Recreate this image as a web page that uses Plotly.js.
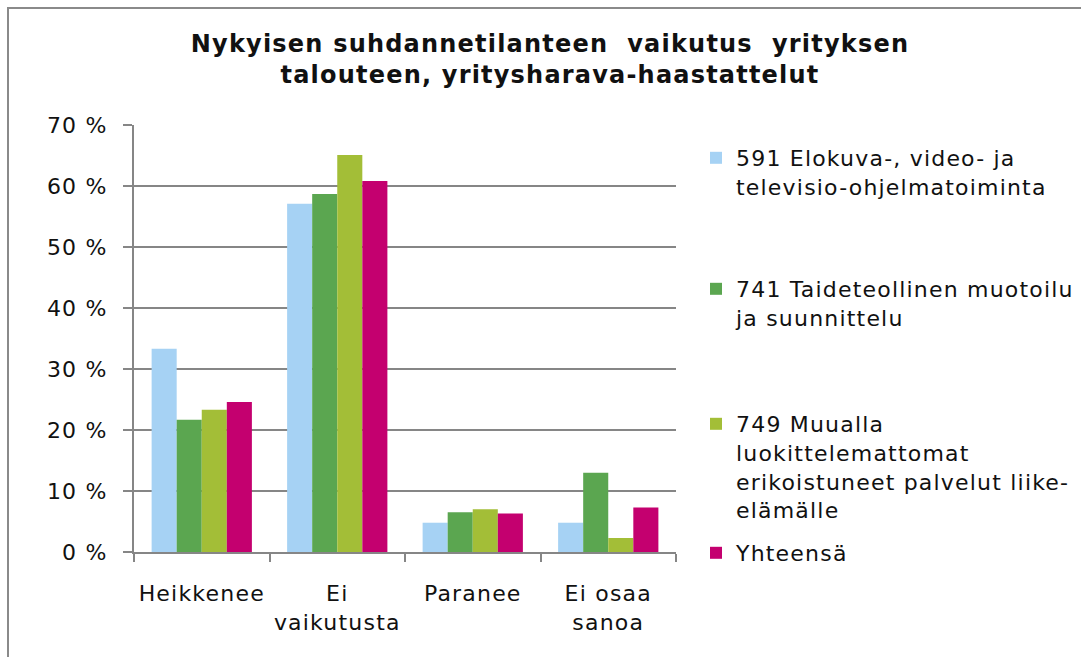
<!DOCTYPE html>
<html>
<head>
<meta charset="utf-8">
<script src="https://cdn.plot.ly/plotly-3.0.1.min.js"></script>
<style>
html,body{margin:0;padding:0;background:#fff;}
#chart{width:1081px;height:657px;}
svg text{letter-spacing:1.2px;}
#chart .legendpoints path.legendbar{transform:translate(16px,-1px) scale(1.25);}
</style>
</head>
<body>
<div id="chart"></div>
<script>
const categories = ['Heikkenee', 'Ei<br>vaikutusta', 'Paranee', 'Ei osaa<br>sanoa'];
const seriesNames = [
  '591 Elokuva-, video- ja<br>televisio-ohjelmatoiminta',
  '741 Taideteollinen muotoilu<br>ja suunnittelu',
  '749 Muualla<br>luokittelemattomat<br>erikoistuneet palvelut liike-<br>elämälle',
  'Yhteensä'
];
const s591 = [33.3, 57.1, 4.8, 4.8];
const s741 = [21.7, 58.7, 6.5, 13.0];
const s749 = [23.3, 65.1, 7.0, 2.3];
const sTotal = [24.6, 60.8, 6.3, 7.3];
const yTicks = [0, 10, 20, 30, 40, 50, 60, 70];
const yTickLabels = ['0 %', '10 %', '20 %', '30 %', '40 %', '50 %', '60 %', '70 %'];

const colors = ['#A6D2F4', '#5BA650', '#A3BE37', '#C4006F'];
const values = [s591, s741, s749, sTotal];
const legendIds = ['legend', 'legend2', 'legend3', 'legend4'];

const traces = values.map((v, i) => ({
  type: 'bar',
  x: categories,
  y: v,
  name: seriesNames[i],
  marker: {color: colors[i], line: {width: 0}},
  legend: legendIds[i],
  hoverinfo: 'skip'
}));

const W = 1081, H = 657;
const L = 134, R = 676, T = 125, B = 552;
const pw = R - L, ph = B - T;
const px = x => (x - L) / pw;
const py = y => (B - y) / ph;

const font = {family: 'DejaVu Sans, Verdana, sans-serif', size: 22, color: '#111'};
const legendBase = (y) => ({
  x: px(696), xanchor: 'left', y: py(y), yanchor: 'top',
  bgcolor: 'rgba(0,0,0,0)', borderwidth: 0,
  font: font, valign: 'top', tracegroupgap: 0
});

const layout = {
  width: W, height: H,
  paper_bgcolor: '#fff', plot_bgcolor: '#fff',
  margin: {l: L, r: W - R, t: T, b: H - B, pad: 0, autoexpand: false},
  font: font,
  title: {
    text: '<b>Nykyisen suhdannetilanteen  vaikutus  yrityksen<br>talouteen, yritysharava-haastattelut</b>',
    font: {family: 'DejaVu Sans, Verdana, sans-serif', size: 24, color: '#111'},
    x: 550 / W, xanchor: 'center', xref: 'container',
    y: 1 - 52 / H, yanchor: 'top', yref: 'container'
  },
  barmode: 'group',
  bargap: 0.26,
  bargroupgap: 0,
  showlegend: true,
  legend: legendBase(137),
  legend2: legendBase(268),
  legend3: legendBase(403),
  legend4: legendBase(532),
  xaxis: {
    type: 'category',
    tickson: 'boundaries',
    tickangle: 0,
    ticks: 'outside', ticklen: 8, tickwidth: 2, tickcolor: '#868686',
    showline: true, linecolor: '#868686', linewidth: 2,
    showgrid: false, zeroline: false,
    tickfont: font,
    ticklabelstandoff: 21,
    automargin: false,
    fixedrange: true
  },
  yaxis: {
    range: [0, 70],
    tickvals: yTicks,
    ticktext: yTickLabels,
    ticks: 'outside', ticklen: 9, tickwidth: 2, tickcolor: '#868686',
    showline: true, linecolor: '#868686', linewidth: 2,
    showgrid: true, gridcolor: '#868686', gridwidth: 2,
    zeroline: false,
    tickfont: font,
    ticklabelstandoff: 11,
    automargin: false,
    fixedrange: true
  },
  shapes: [{
    type: 'rect', xref: 'paper', yref: 'paper',
    x0: px(8), x1: px(1100), y0: py(680), y1: py(8),
    line: {color: '#8A8A8A', width: 2}, fillcolor: 'rgba(0,0,0,0)', layer: 'below'
  }]
};

Plotly.newPlot('chart', traces, layout, {displayModeBar: false, staticPlot: true});
</script>
</body>
</html>
